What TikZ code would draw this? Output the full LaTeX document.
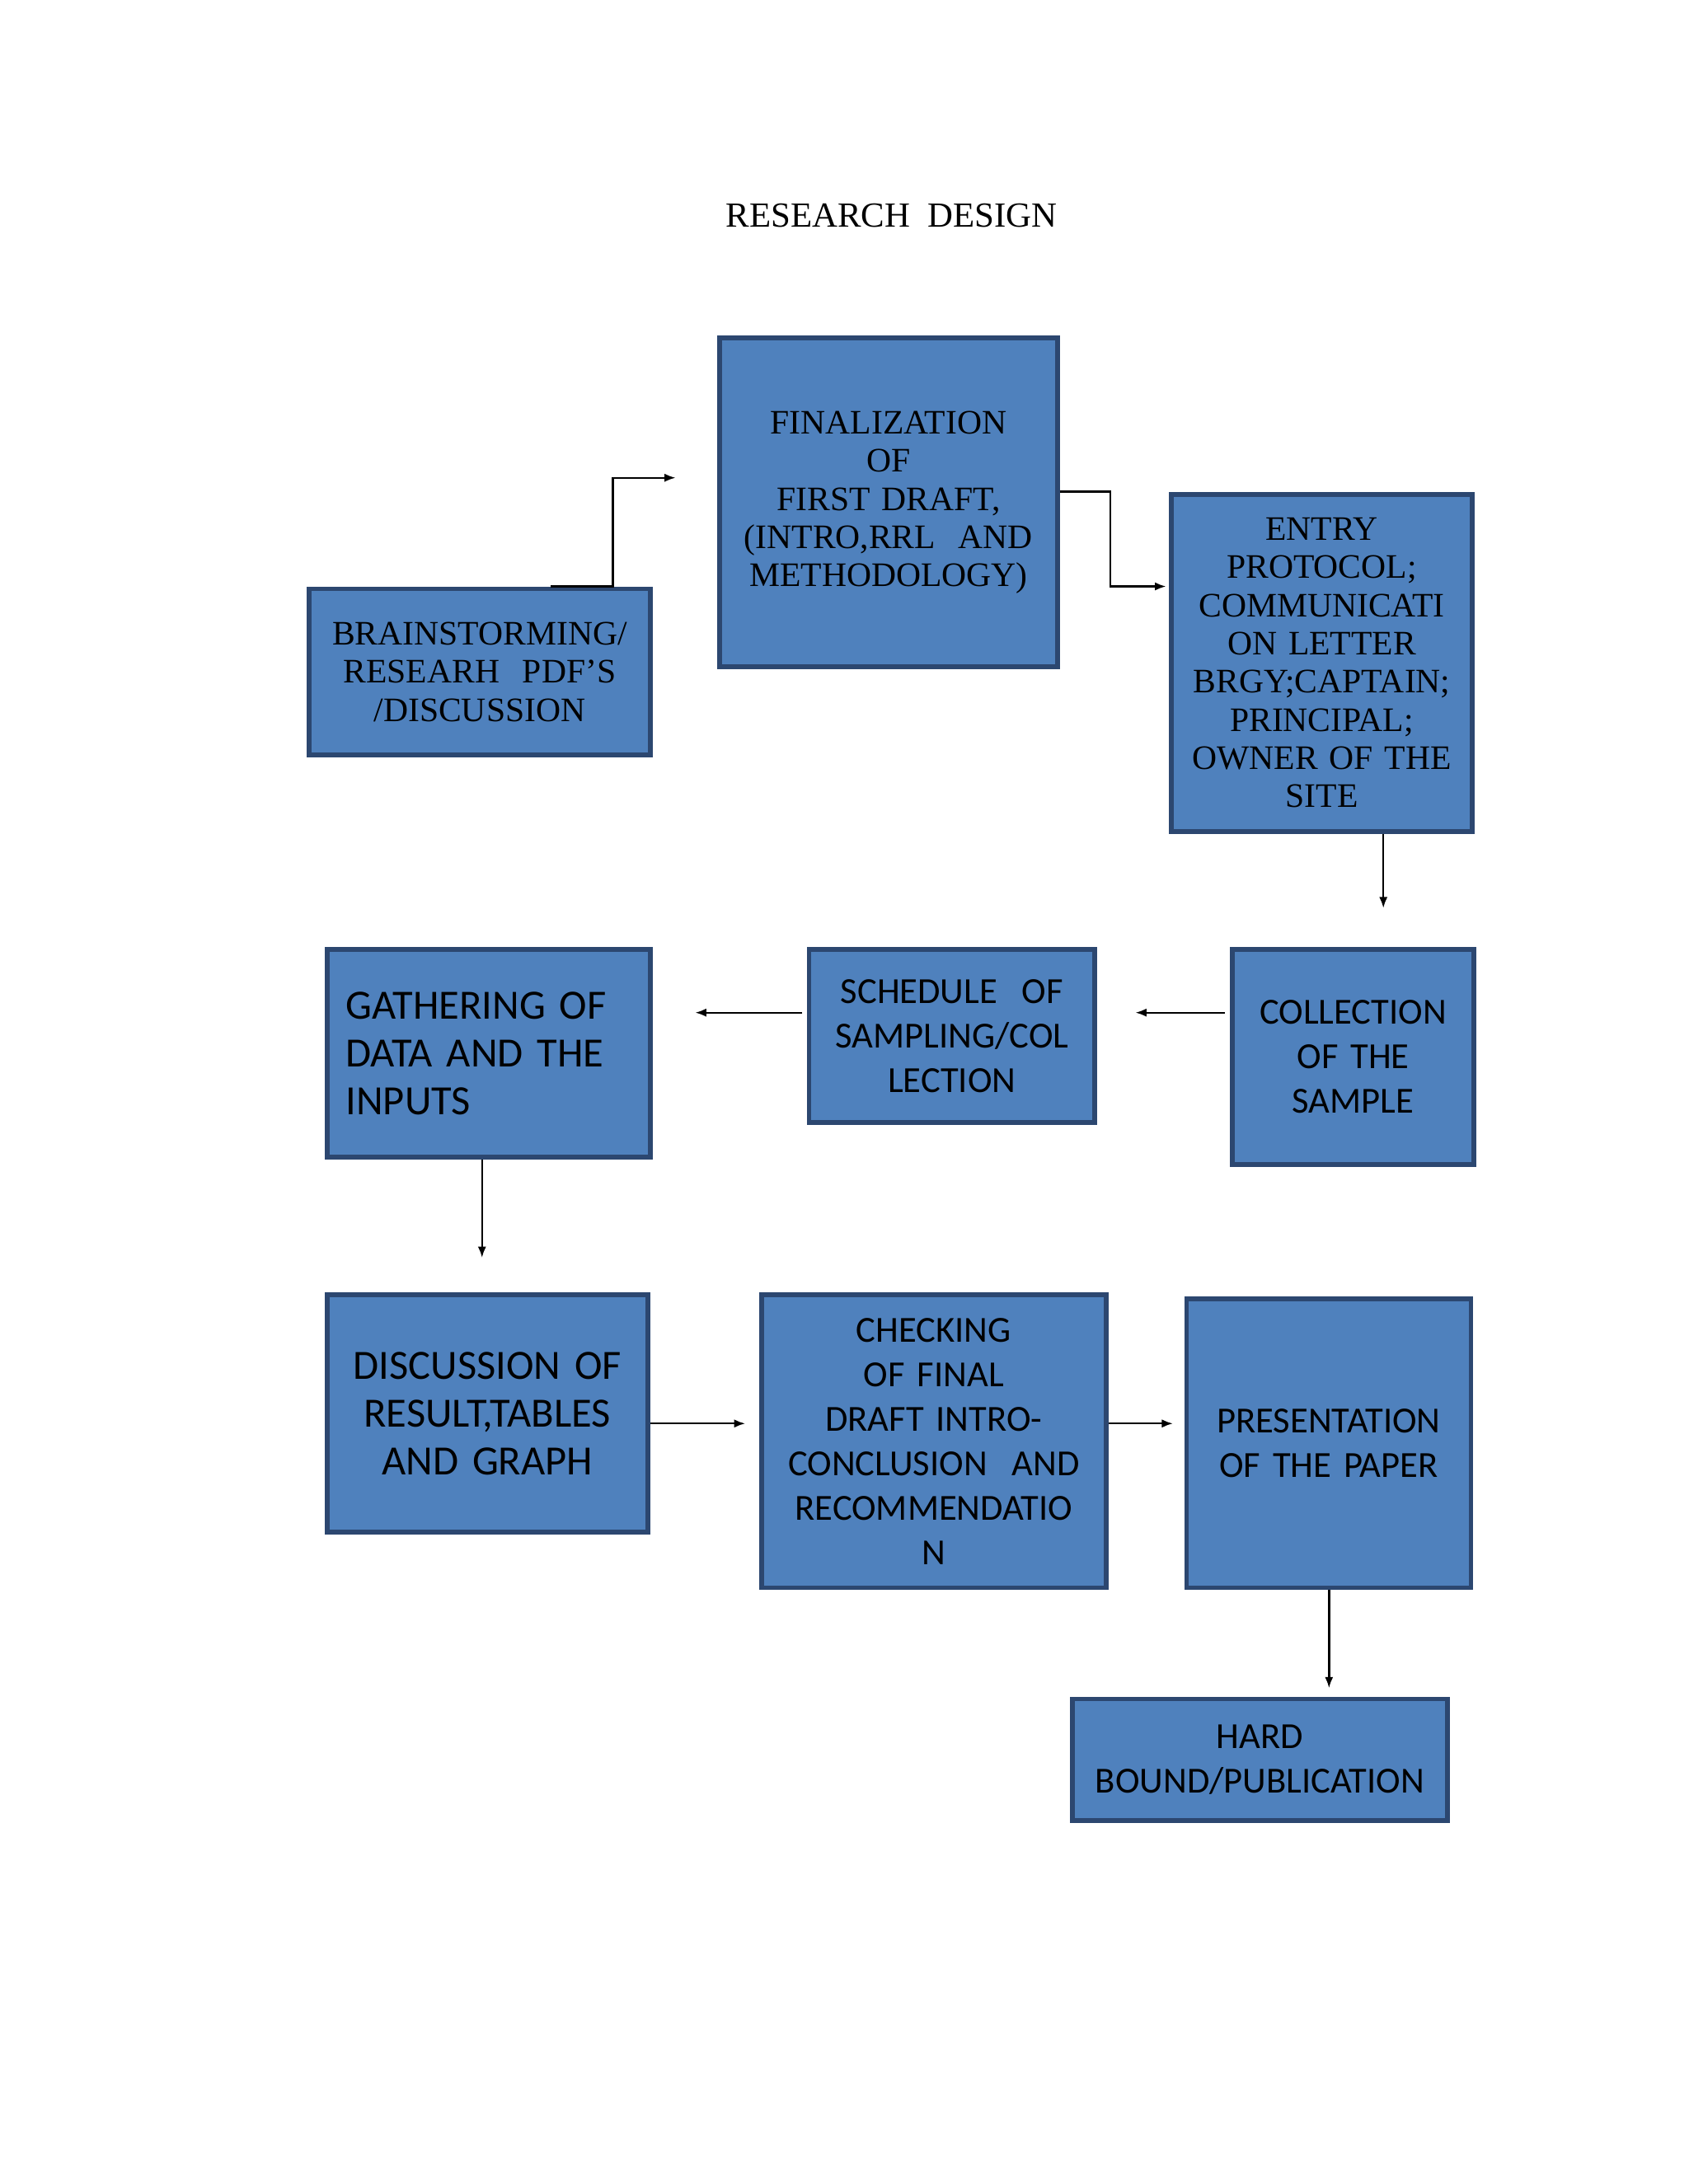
\documentclass[tikz,border=0pt]{standalone}
\usepackage{fontspec}
\setmainfont{Liberation Serif}
\newfontfamily\sansf{Carlito}
\usetikzlibrary{arrows.meta}
\definecolor{boxfill}{HTML}{4F81BD}
\definecolor{boxline}{HTML}{2C4770}
\begin{document}
\begin{tikzpicture}[x=0.01cm,y=-0.01cm,
  box/.style={draw=boxline,line width=1pt,fill=boxfill,anchor=north west,inner sep=2pt,align=center,font=\fontsize{7}{7.8}\selectfont},
  sbox/.style={box,font=\sansf\fontsize{7.5}{9.1}\selectfont},
  lbox/.style={box,font=\sansf\fontsize{8.5}{9.8}\selectfont},
  arr/.style={-{Latex[length=0.8mm,width=0.6mm]},line width=0.4pt}]
\useasboundingbox (0,0) rectangle (1212,1568);
\node (t) at (640,155) {\fontsize{7.2}{8}\selectfont RESEARCH\ \ DESIGN};
\node[box,minimum width=2.45cm,minimum height=1.19cm,text width=2.2cm] (b1) at (220,421) {BRAINSTORMING/\\RESEARH\ \ PDF'S\\/DISCUSSION};
\node[box,minimum width=2.42cm,minimum height=2.36cm,text width=2.15cm] (b2) at (515,241) {FINALIZATION\ \ OF\\FIRST DRAFT,\\(INTRO,RRL\ \ AND\\METHODOLOGY)};
\node[box,minimum width=2.16cm,minimum height=2.42cm,text width=1.9cm] (b3) at (839,353) {ENTRY\\PROTOCOL;\\COMMUNICATI\\ON LETTER\\BRGY;CAPTAIN;\\PRINCIPAL;\\OWNER OF THE\\SITE};
\node[sbox,minimum width=1.73cm,minimum height=1.54cm,text width=1.5cm] (b4) at (883,680) {COLLECTION\\OF THE\\SAMPLE};
\node[sbox,minimum width=2.05cm,minimum height=1.24cm,text width=1.8cm] (b5) at (579,680) {SCHEDULE\ \ OF\\SAMPLING/COL\\LECTION};
\node[lbox,minimum width=2.32cm,minimum height=1.49cm,text width=2.05cm,align=left] (b6) at (233,680) {GATHERING OF\\DATA AND THE\\INPUTS\\[1.2em]};
\node[lbox,minimum width=2.3cm,minimum height=1.7cm,text width=2.05cm] (b7) at (233,928) {DISCUSSION OF\\RESULT,TABLES\\AND GRAPH\\[1.2em]};
\node[sbox,minimum width=2.47cm,minimum height=2.1cm,text width=2.2cm] (b8) at (545,928) {CHECKING\ OF FINAL\\DRAFT INTRO-\\CONCLUSION\ \ AND\\RECOMMENDATIO\\N};
\node[sbox,minimum width=2.04cm,minimum height=2.07cm,text width=1.8cm] (b9) at (850,931) {PRESENTATION\\OF THE PAPER};
\node[sbox,minimum width=2.69cm,minimum height=0.87cm,text width=2.4cm] (b10) at (768,1218) {HARD\\BOUND/PUBLICATION};
\coordinate (e1) at (485,343);
\draw[arr] (b1.north -| 395,0) -- (b1.north -| 440,0) -- (440,343) -- (e1);
\coordinate (e2) at (837,421);
\draw[arr] (b2.east |- 0,353) -- (797,353) -- (797,421) -- (e2);
\coordinate (e3) at (993,652);
\draw[arr] (b3.south -| e3) -- (e3);
\coordinate (s4) at (879,727); \coordinate (e4) at (815,727);
\draw[arr] (s4) -- (e4);
\coordinate (s5) at (576,727); \coordinate (e5) at (499,727);
\draw[arr] (s5) -- (e5);
\coordinate (e6) at (346,903);
\draw[arr] (b6.south -| e6) -- (e6);
\coordinate (e7) at (535,1022);
\draw[arr] (b7.east |- e7) -- (e7);
\coordinate (e8) at (842,1022);
\draw[arr] (b8.east |- e8) -- (e8);
\coordinate (e9) at (954,1212);
\draw[arr] (b9.south -| e9) -- (e9);
\end{tikzpicture}
\end{document}
